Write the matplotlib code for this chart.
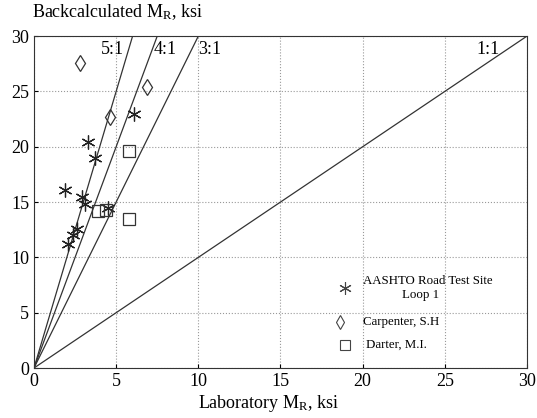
import numpy as np
import matplotlib.pyplot as plt

plt.rcParams['font.family'] = 'Liberation Serif'
plt.rcParams['mathtext.fontset'] = 'stix'

# AASHTO Road Test Site, Loop 1
aashto_lab = [3.3, 3.7, 6.1, 1.9, 2.9, 3.1, 4.5, 2.6, 2.4, 2.1]
aashto_back = [20.4, 19.0, 23.0, 16.1, 15.5, 14.8, 14.5, 12.6, 12.0, 11.2]
# Carpenter, S.H
carp_lab = [2.8, 6.9, 4.6]
carp_back = [27.6, 25.4, 22.7]
# Darter, M.I.
darter_lab = [5.8, 3.9, 4.4, 5.8]
darter_back = [19.6, 14.2, 14.3, 13.5]

ratios = [5, 4, 3, 1]
ratio_labels = ['5:1', '4:1', '3:1', '1:1']

fig = plt.figure(figsize=(5.37, 4.18), dpi=100)
ax = fig.add_axes([0.0633, 0.1196, 0.918, 0.794])

for r in ratios:
    xs = np.array([0, 30.0 / r])
    ax.plot(xs, r * xs, color='#333333', lw=0.9)

label_x = [4.1, 7.3, 10.0, 26.9]
for lx, t in zip(label_x, ratio_labels):
    ax.text(lx, 29.6, t, fontsize=13, va='top', ha='left')

asterisk = (6, 2, 0)
ax.plot(aashto_lab, aashto_back, ls='none', marker=asterisk, ms=10, mec='#222222', mew=0.9)
ax.plot(carp_lab, carp_back, ls='none', marker='d', ms=8, mfc='none', mec='#333333', mew=0.9)
ax.plot(darter_lab, darter_back, ls='none', marker='s', ms=8, mfc='none', mec='#333333', mew=0.9)

# legend drawn by hand
ax.plot([18.9], [7.2], ls='none', marker=asterisk, ms=9, mec='#444444', mew=0.8)
ax.plot([18.6], [4.2], ls='none', marker='d', ms=7, mfc='none', mec='#444444', mew=0.8)
ax.plot([18.9], [2.1], ls='none', marker='s', ms=7, mfc='none', mec='#444444', mew=0.8)
ax.text(20.0, 7.2, 'AASHTO Road Test Site\n            Loop 1', fontsize=9.3, va='center', ha='left')
ax.text(20.0, 4.2, 'Carpenter, S.H', fontsize=9.3, va='center', ha='left')
ax.text(20.2, 2.1, 'Darter, M.I.', fontsize=9.3, va='center', ha='left')

ax.set_xlim(0, 30)
ax.set_ylim(0, 30)
ax.set_xticks(range(0, 31, 5))
ax.set_yticks(range(0, 31, 5))
ax.tick_params(labelsize=13, length=3, direction='in')
ax.grid(True, ls=':', color='#999999', lw=0.8)
for s in ax.spines.values():
    s.set_color('#333333')

fig.text(0.5, 0.01, 'Laboratory M$_\\mathregular{R}$, ksi', ha='center', va='bottom', fontsize=13)
fig.text(0.06, 0.995, 'Backcalculated M$_\\mathregular{R}$, ksi', ha='left', va='top', fontsize=13)

fig.savefig('out.png', dpi=100)
